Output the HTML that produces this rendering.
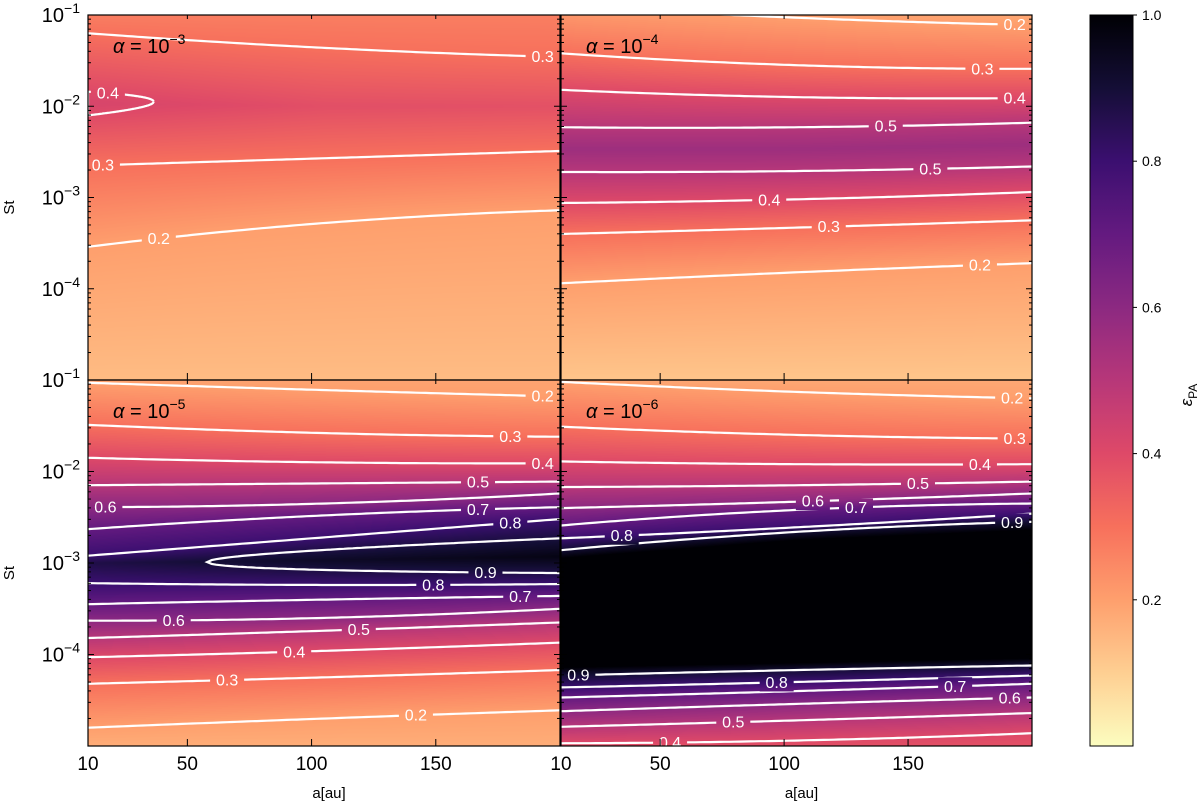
<!DOCTYPE html>
<html><head><meta charset="utf-8">
<style>
html,body{margin:0;padding:0;background:#fff;}
#wrap{position:relative;width:1200px;height:805px;overflow:hidden;}
canvas,svg{position:absolute;left:0;top:0;}
text{font-family:"Liberation Sans","DejaVu Sans",sans-serif;}
</style></head>
<body>
<div id="wrap">
<canvas id="cv" width="1200" height="805"></canvas>
<svg id="sv" width="1200" height="805" xmlns="http://www.w3.org/2000/svg"></svg>
</div>
<script>
// ---------- data ----------
const aGrid = [10, 105, 200];
const panelAlphas = ["−3", "−4", "−5", "−6"];
// Panel 1 (alpha=1e-3)
const p1Levels = [0.3, 0.3, 0.2];
const p1U = [[-1.2,-1.36,-1.46],[-2.65,-2.57,-2.49],[-3.54,-3.28,-3.14]];
const p1LabelA = [193, 16, 38.5];
const p1TopVal = [0.27,0.27,0.27], p1BotVal = [0.14,0.14,0.14];
const p1PeakU = [-1.97,-2.0,-2.0], p1PeakVal = [0.42,0.385,0.38];
const p1Loop = {level:0.4, tipA:36.5, tipU:-1.95, endU:-1.97, halfW:0.13, dir:-1, labelA:18};
// Panel 2 (alpha=1e-4)
const p2Levels = [0.2,0.3,0.4,0.5,0.5,0.4,0.3,0.2];
const p2U = [[-0.9,-1.03,-1.11],[-1.42,-1.55,-1.59],[-1.82,-1.90,-1.91],[-2.23,-2.23,-2.18],
             [-2.72,-2.71,-2.66],[-3.06,-3.02,-2.94],[-3.40,-3.33,-3.25],[-3.94,-3.82,-3.72]];
const p2LabelA = [193,180,193,141,159,94,118,179];
const p2TopVal = [0.22,0.2,0.18], p2BotVal = [0.12,0.12,0.12];
const p2PeakU = [-2.47,-2.47,-2.42], p2PeakVal = [0.56,0.56,0.56];
// Panel 3 (alpha=1e-5)
const p3Levels = [0.2,0.3,0.4,0.5,0.6,0.7,0.8,0.8,0.7,0.6,0.5,0.4,0.3,0.2];
const p3U = [[-1.03,-1.11,-1.18],[-1.49,-1.58,-1.62],[-1.85,-1.90,-1.91],[-2.15,-2.13,-2.11],
             [-2.39,-2.35,-2.24],[-2.63,-2.48,-2.39],[-2.92,-2.72,-2.52],[-3.22,-3.24,-3.23],
             [-3.45,-3.40,-3.36],[-3.63,-3.60,-3.50],[-3.82,-3.74,-3.65],[-4.03,-3.96,-3.87],
             [-4.32,-4.25,-4.17],[-4.80,-4.70,-4.61]];
const p3LabelA = [193,180,193,167,17,167,180,149,184,44.5,119,93,66,142];
const p3TopVal = [0.19,0.19,0.19], p3BotVal = [0.17,0.17,0.17];
const p3PeakU = [-3.0,-2.97,-2.93], p3PeakVal = [0.87,0.93,0.97];
const p3Loop = {level:0.9, tipA:58, tipU:-2.99, endU:-2.92, halfW:0.19, dir:1, labelA:170};
// Panel 4 (alpha=1e-6)
const p4Levels = [0.2,0.3,0.4,0.5,0.6,0.7,0.8,0.9,0.9,0.8,0.7,0.6,0.5,0.4];
const p4U = [[-1.02,-1.13,-1.2],[-1.51,-1.60,-1.64],[-1.89,-1.92,-1.92],[-2.17,-2.15,-2.11],
             [-2.40,-2.33,-2.24],[-2.59,-2.42,-2.35],[-2.73,-2.61,-2.46],[-2.86,-2.66,-2.55],
             [-4.23,-4.17,-4.12],[-4.36,-4.30,-4.23],[-4.47,-4.40,-4.32],[-4.62,-4.54,-4.47],
             [-4.79,-4.72,-4.64],[-4.97,-4.94,-4.86]];
const p4LabelA = [192,193,179,154,111.6,129,34.5,192,17,97,169,191,79.5,54];
const p4TopVal = [0.18,0.18,0.18], p4BotVal = [0.38,0.38,0.38];
const p4PlateauTopU = [-2.95,-2.75,-2.64], p4PlateauBotU = [-4.14,-4.09,-4.04], p4PlateauVal = [1,1,1];

const yTickExps = [-1,-2,-3,-4];
const xTicks = [10,50,100,150];
const cbTicks = [0.2,0.4,0.6,0.8,1.0];
const magma = ["#000004","#140e36","#3b0f70","#641a80","#8c2981","#b73779","#de4968","#f7705c","#fe9f6d","#fecf92","#fcfdbf"];

// ---------- layout ----------
const panels = [
 {x0:88,x1:560,y0:15,y1:380, levels:p1Levels,U:p1U,labelA:p1LabelA,top:p1TopVal,bot:p1BotVal,
  anchors:[[p1PeakU,p1PeakVal]], loop:p1Loop, ylab:true},
 {x0:561,x1:1032,y0:15,y1:380, levels:p2Levels,U:p2U,labelA:p2LabelA,top:p2TopVal,bot:p2BotVal,
  anchors:[[p2PeakU,p2PeakVal]], loop:null, ylab:false},
 {x0:88,x1:560,y0:380,y1:746, levels:p3Levels,U:p3U,labelA:p3LabelA,top:p3TopVal,bot:p3BotVal,
  anchors:[[p3PeakU,p3PeakVal]], loop:p3Loop, ylab:true},
 {x0:561,x1:1032,y0:380,y1:746, levels:p4Levels,U:p4U,labelA:p4LabelA,top:p4TopVal,bot:p4BotVal,
  anchors:[[p4PlateauTopU,p4PlateauVal],[p4PlateauBotU,p4PlateauVal]], loop:null, ylab:false}
];
const A0=10, A1=200, U0=-1, U1=-5;
function xS(p,a){return p.x0+(a-A0)/(A1-A0)*(p.x1-p.x0);}
function yS(p,u){return p.y0+(U0-u)/(U0-U1)*(p.y1-p.y0);}
function q(v,a){
  const [x0,x1,x2]=aGrid;
  return v[0]*(a-x1)*(a-x2)/((x0-x1)*(x0-x2))+v[1]*(a-x0)*(a-x2)/((x1-x0)*(x1-x2))+v[2]*(a-x0)*(a-x1)/((x2-x0)*(x2-x1));
}
function lin(v,a){ return a<=aGrid[1]? v[0]+(v[1]-v[0])*(a-aGrid[0])/(aGrid[1]-aGrid[0]) : v[1]+(v[2]-v[1])*(a-aGrid[1])/(aGrid[2]-aGrid[1]); }
function loopLegs(L,a){
  let s = L.dir>0 ? (a-L.tipA)/(A1-L.tipA) : (L.tipA-a)/(L.tipA-A0);
  if(s<0) return null;
  const w=L.halfW*Math.sqrt(s), c=L.tipU+(L.endU-L.tipU)*s;
  return [c+w,c-w];
}
function hex(h){return [parseInt(h.slice(1,3),16),parseInt(h.slice(3,5),16),parseInt(h.slice(5,7),16)];}
const mg = magma.map(hex);
function cmap(eps){ let t=1-Math.max(0,Math.min(1,eps)); let f=t*10, i=Math.min(9,Math.floor(f)), r=f-i;
  const a=mg[i],b=mg[i+1]; return [a[0]+(b[0]-a[0])*r,a[1]+(b[1]-a[1])*r,a[2]+(b[2]-a[2])*r]; }

// ---------- heatmap ----------
const cv=document.getElementById('cv'), ctx=cv.getContext('2d');
const img=ctx.createImageData(1200,805);
panels.forEach(p=>{
  for(let px=p.x0; px<p.x1; px++){
    const a=A0+(px+0.5-p.x0)/(p.x1-p.x0)*(A1-A0);
    const pts=[[U1,lin(p.bot,a)]];
    let topCovered=false;
    p.levels.forEach((lv,i)=>{const u=q(p.U[i],a); if(u>=U0-0.03) topCovered=true; pts.push([u,lv]);});
    if(!topCovered) pts.push([U0,lin(p.top,a)]);
    p.anchors.forEach(an=>pts.push([lin(an[0],a),lin(an[1],a)]));
    pts.sort((m,n)=>n[0]-m[0]);
    for(let py=p.y0; py<p.y1; py++){
      const u=U0-(py+0.5-p.y0)/(p.y1-p.y0)*(U0-U1);
      let v;
      if(u>=pts[0][0]) v=pts[0][1];
      else if(u<=pts[pts.length-1][0]) v=pts[pts.length-1][1];
      else for(let k=0;k<pts.length-1;k++){ if(u<=pts[k][0]&&u>=pts[k+1][0]){const d=pts[k][0]-pts[k+1][0]; v=d<1e-9?pts[k][1]:pts[k][1]+(pts[k+1][1]-pts[k][1])*(pts[k][0]-u)/d; break;} }
      const c=cmap(v), o=(py*1200+px)*4;
      img.data[o]=c[0];img.data[o+1]=c[1];img.data[o+2]=c[2];img.data[o+3]=255;
    }
  }
});
for(let i=0;i<img.data.length;i+=4){ if(img.data[i+3]===0){img.data[i]=img.data[i+1]=img.data[i+2]=img.data[i+3]=255;} }
ctx.putImageData(img,0,0);

// ---------- svg overlay ----------
const NS="http://www.w3.org/2000/svg", sv=document.getElementById('sv');
function el(tag,attrs,parent){const e=document.createElementNS(NS,tag);for(const k in attrs)e.setAttribute(k,attrs[k]);(parent||sv).appendChild(e);return e;}
const defs=el('defs',{});
const grad=el('linearGradient',{id:'cbg',x1:'0',y1:'1',x2:'0',y2:'0'},defs);
for(let i=0;i<=20;i++){const t=i/20,c=cmap(t);el('stop',{offset:t,'stop-color':`rgb(${c.map(Math.round).join(',')})`},grad);}

panels.forEach((p,pi)=>{
  const clip=el('clipPath',{id:'clip'+pi},defs);
  el('rect',{x:p.x0,y:p.y0,width:p.x1-p.x0,height:p.y1-p.y0},clip);
  const mask=el('mask',{id:'mask'+pi,maskUnits:'userSpaceOnUse',x:0,y:0,width:1200,height:805},defs);
  el('rect',{x:0,y:0,width:1200,height:805,fill:'#fff'},mask);
  const g=el('g',{'clip-path':`url(#clip${pi})`});
  
  
  const lg=el('g',{mask:`url(#mask${pi})`,fill:'none',stroke:'#fff','stroke-width':2.2},g);
  const labels=[];
  p.levels.forEach((lv,i)=>{
    let d='';
    for(let a=A0;a<=A1;a+=2){d+=(a===A0?'M':'L')+xS(p,a).toFixed(1)+','+yS(p,q(p.U[i],a)).toFixed(1);}
    const path=el('path',{d:d},lg);
    
    
    const la=p.labelA[i];
    labels.push([xS(p,la),yS(p,q(p.U[i],la)),lv]);
  });
  if(p.loop){
    const L=p.loop, up=[], lo=[];
    const aStart=L.dir>0?L.tipA:A0, aEnd=L.dir>0?A1:L.tipA;
    for(let k=0;k<=80;k++){const a=aStart+(aEnd-aStart)*k/80;const lgs=loopLegs(L,a);if(lgs){up.push([a,lgs[0]]);lo.push([a,lgs[1]]);}}
    const seq=up.slice().reverse().concat(lo);
    let d='';seq.forEach((s,k)=>{d+=(k?'L':'M')+xS(p,s[0]).toFixed(1)+','+yS(p,s[1]).toFixed(1);});
    const path=el('path',{d:d},lg);
    
    
    const lgs=loopLegs(L,L.labelA);
    const legU = L.dir>0? lgs[1] : lgs[0];
    labels.push([xS(p,L.labelA),yS(p,legU),L.level]);
  }
  labels.forEach(l=>{
    el('rect',{x:l[0]-17,y:l[1]-9,width:34,height:18,fill:'#000'},mask);
    const t=el('text',{x:l[0],y:l[1]+5.5,'text-anchor':'middle','font-size':16,fill:'#fff'},g);
    t.textContent=l[2].toFixed(1);
    
    
  });
  const fr=el('rect',{x:p.x0,y:p.y0,width:p.x1-p.x0,height:p.y1-p.y0,fill:'none',stroke:'#000','stroke-width':1.2});
  
  
  const tg=el('g',{stroke:'#000','stroke-width':1});
  
  
  for(let d=-5; d<=-1; d++){
    for(let k=1;k<=9;k++){
      const u=d+Math.log10(k); if(u>U0+1e-9) continue;
      const y=yS(p,u), len=k===1?6:3;
      el('line',{x1:p.x0,y1:y,x2:p.x0+len,y2:y},tg);
      el('line',{x1:p.x1,y1:y,x2:p.x1-len,y2:y},tg);
    }
  }
  xTicks.forEach(a=>{ if(a===A0) return; const x=xS(p,a);
    el('line',{x1:x,y1:p.y1,x2:x,y2:p.y1-7},tg); el('line',{x1:x,y1:p.y0,x2:x,y2:p.y0+4},tg);});
  if(p.ylab){
    yTickExps.forEach(e=>{
      const t=el('text',{x:80,y:yS(p,e)+7,'text-anchor':'end','font-size':20,fill:'#000'});
      
      
      t.appendChild(document.createTextNode('10'));
      const s=el('tspan',{dy:-9,'font-size':14},t); s.textContent='−'+(-e);
    });
    const st=el('text',{x:0,y:0,'text-anchor':'middle','font-size':15,fill:'#000',transform:`translate(14,${(p.y0+p.y1)/2+10}) rotate(-90)`});
    st.textContent='St';
    
    
  }
  if(pi>=2){
    xTicks.forEach(a=>{
      const t=el('text',{x:xS(p,a),y:770,'text-anchor':'middle','font-size':19,fill:'#000'});
      t.textContent=a;
      
      
    });
    const xt=el('text',{x:(p.x0+p.x1)/2+5,y:798,'text-anchor':'middle','font-size':15,fill:'#000'});
    xt.textContent='a[au]';
    
    
  }
  const at=el('text',{x:p.x0+25,y:p.y0+38,'font-size':20,fill:'#000'});
  
  
  const ai=el('tspan',{'font-style':'italic'},at); ai.textContent='α';
  const ae=el('tspan',{},at); ae.textContent=' = 10';
  const as=el('tspan',{dy:-9,'font-size':14},at); as.textContent=panelAlphas[pi];
});

const cb={x:1090,w:43,y0:15,y1:746};
const cbr=el('rect',{x:cb.x,y:cb.y0,width:cb.w,height:cb.y1-cb.y0,fill:'url(#cbg)',stroke:'#000','stroke-width':1});


cbTicks.forEach(v=>{
  const y=cb.y1-v*(cb.y1-cb.y0);
  el('line',{x1:cb.x+cb.w,y1:y,x2:cb.x+cb.w+4,y2:y,stroke:'#000'});
  const t=el('text',{x:cb.x+cb.w+9,y:y+5,'font-size':14,fill:'#000'});
  t.textContent=v.toFixed(1);
  
  
});
const ct=el('text',{x:0,y:0,'font-size':17,fill:'#000','text-anchor':'middle',transform:'translate(1192,395) rotate(-90)'});


const ce=el('tspan',{'font-style':'italic'},ct); ce.textContent='ε';
const cs=el('tspan',{dy:5,'font-size':12},ct); cs.textContent='PA';
</script>
</body></html>
